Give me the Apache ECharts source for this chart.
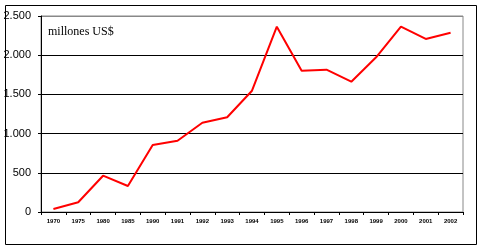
<!DOCTYPE html>
<html><head><meta charset="utf-8">
<script src="https://cdn.jsdelivr.net/npm/echarts@6/dist/echarts.min.js"></script>
<style>html,body{margin:0;padding:0;background:#fff}#c{width:483px;height:249px}</style>
</head><body><div id="c"></div>
<script>
var categories = ['1970','1975','1980','1985','1990','1991','1992','1993','1994','1995','1996','1997','1998','1999','2000','2001','2002'];
var values = [38, 124, 463, 332, 855, 909, 1139, 1208, 1547, 2364, 1802, 1815, 1662, 1973, 2364, 2207, 2287];
var yTicks = [0, 500, 1000, 1500, 2000, 2500];
var unitLabel = 'millones US$';

var chart = echarts.init(document.getElementById('c'), null, {renderer:'canvas'});
chart.setOption({
  animation: false,
  backgroundColor: '#fff',
  grid: {left: 41, top: 16, right: 20, bottom: 37, show: true, borderColor: '#888', borderWidth: 1},
  graphic: [
    {type: 'rect', shape: {x: 5.5, y: 5.5, width: 471, height: 239}, style: {fill: 'none', stroke: '#000', lineWidth: 1}, z: 100},
    {type: 'text', left: 48, top: 26, style: {text: unitLabel, font: '12px "Liberation Serif"', fill: '#000'}, z: 100}
  ],
  xAxis: {
    type: 'category', data: categories, boundaryGap: true,
    axisLine: {lineStyle: {color: '#000', width: 1}},
    axisTick: {show: true, length: 3, lineStyle: {color: '#000'}, alignWithLabel: false},
    axisLabel: {interval: 0, fontSize: 6, fontWeight: 'bold', color: '#000', fontFamily: 'Liberation Sans', margin: 6}
  },
  yAxis: {
    type: 'value', min: yTicks[0], max: yTicks[yTicks.length-1], interval: 500,
    axisLine: {show: true, lineStyle: {color: '#000', width: 1}},
    axisTick: {show: true, length: 3, lineStyle: {color: '#000'}},
    splitLine: {show: true, lineStyle: {color: ['#000','#000','#000','#000','#000','#888'], width: 1}},
    axisLabel: {fontSize: 11, color: '#000', fontFamily: 'Liberation Sans', margin: 10,
      formatter: function (v) { return v >= 1000 ? Math.floor(v/1000) + '.' + String(v % 1000).padStart(3, '0') : String(v); }}
  },
  series: [{
    type: 'line', data: values, symbol: 'none',
    lineStyle: {color: '#ff0000', width: 2}
  }]
});
</script></body></html>
